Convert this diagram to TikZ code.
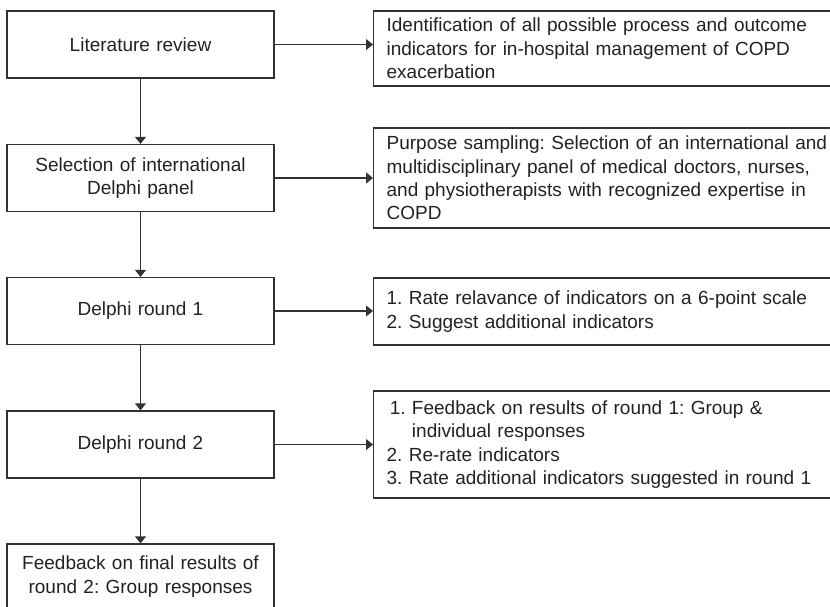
\documentclass[tikz,border=0pt]{standalone}
\usepackage{fontspec}
\setmainfont{Liberation Sans}
\usetikzlibrary{arrows.meta}
\frenchspacing
\definecolor{linegray}{HTML}{333333}
\definecolor{textgray}{HTML}{222222}
\tikzset{
  stage/.style={draw=linegray, line width=1.25pt, minimum width=267pt, minimum height=67pt,
    text width=255pt, align=center, inner sep=0pt, text=textgray,
    font=\fontsize{19}{23.3}\selectfont},
  note/.style={draw=linegray, line width=1.25pt, anchor=west, text width=520pt, align=left,
    inner xsep=13pt, inner ysep=0pt, text=textgray, font=\fontsize{19}{23.3}\selectfont},
  flow/.style={draw=linegray, line width=1.25pt, -{Triangle[length=7pt,width=11pt]}}
}
\begin{document}
\begin{tikzpicture}[x=1pt, y=-1pt]
\useasboundingbox (0,0) rectangle (830,606);
\clip (0,0) rectangle (830,606);
% left column
\node[stage] (lit) at (140.5,44.5){Literature review};
\node[stage] (panel) at (140.5,178){Selection of international\\Delphi panel};
\node[stage] (round1) at (140.5,311){Delphi round 1};
\node[stage] (round2) at (140.5,444.5){Delphi round 2};
\node[stage, minimum height=65pt] (final) at (140.5,576.5){Feedback on final results of\\round 2: Group responses};
% right column
\node[note, minimum height=75pt] (ident) at (373,48.5){Identification of all possible process and outcome\\indicators for in-hospital management of COPD\\exacerbation};
\node[note, minimum height=100pt] (sampling) at (373,178){Purpose sampling: Selection of an international and\\multidisciplinary panel of medical doctors, nurses,\\and physiotherapists with recognized expertise in\\COPD};
\node[note, minimum height=67pt] (rate1) at (373,311.5){1. Rate relavance of indicators on a 6-point scale\\2. Suggest additional indicators};
\node[note, minimum height=107pt] (rate2) at (373,444.5){\,1. Feedback on results of round 1: Group \&\\\,\hphantom{1.~}individual responses\\2. Re-rate indicators\\3. Rate additional indicators suggested in round 1};
% connectors
\draw[flow](lit) -- (panel);
\draw[flow](panel) -- (round1);
\draw[flow](round1) -- (round2);
\draw[flow](round2) -- (final);
\draw[flow](lit) -- (lit.east -| ident.west);
\draw[flow](panel) -- (panel.east -| sampling.west);
\draw[flow](round1) -- (round1.east -| rate1.west);
\draw[flow](round2) -- (round2.east -| rate2.west);
\end{tikzpicture}
\end{document}
